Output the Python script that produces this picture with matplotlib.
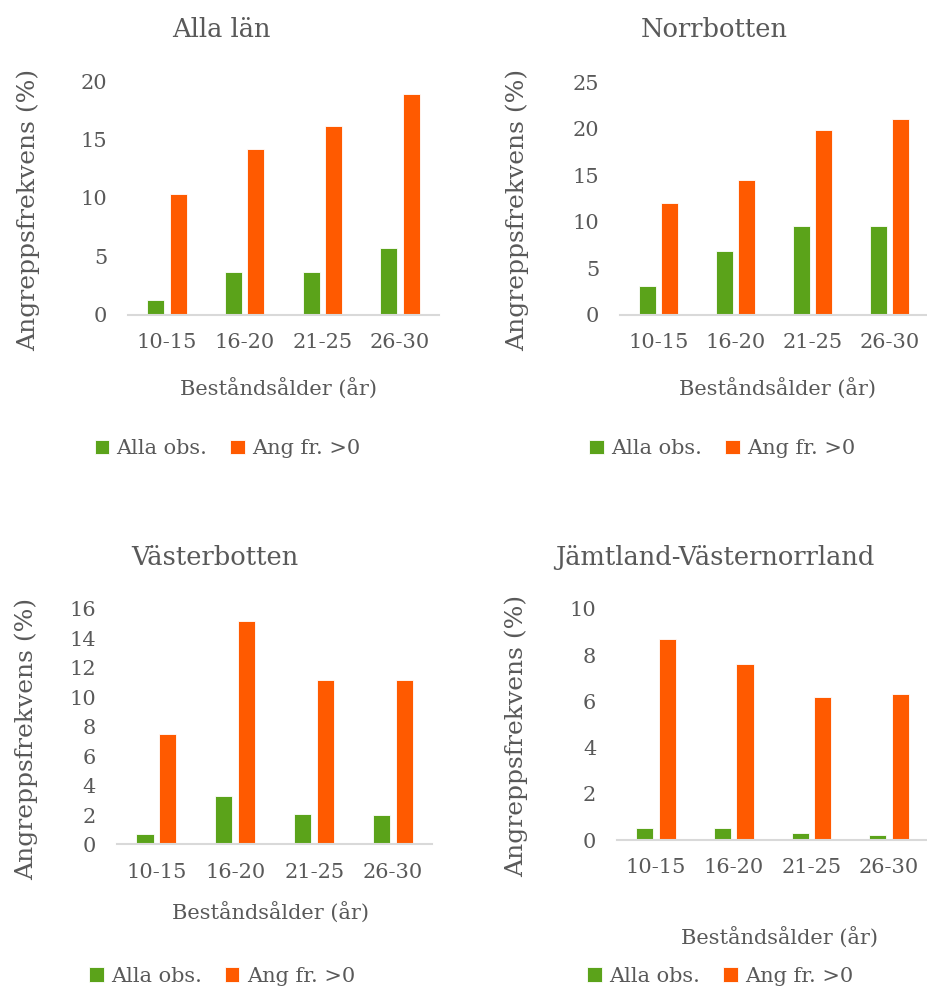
import matplotlib
matplotlib.use("Agg")
import matplotlib.pyplot as plt
import numpy as np

plt.rcParams["font.family"] = ["DejaVu Serif"]

CATEGORIES = ["10-15", "16-20", "21-25", "26-30"]
SERIES_NAMES = ["Alla obs.", "Ang fr. >0"]

TITLES = ["Alla län", "Norrbotten", "Västerbotten", "Jämtland-Västernorrland"]

ALLA_LAN_ALL = [1.3, 3.7, 3.7, 5.7]
ALLA_LAN_POS = [10.3, 14.2, 16.2, 18.9]

NORRBOTTEN_ALL = [3.1, 6.9, 9.5, 9.5]
NORRBOTTEN_POS = [12.0, 14.5, 19.9, 21.0]

VASTERBOTTEN_ALL = [0.7, 3.3, 2.1, 2.0]
VASTERBOTTEN_POS = [7.5, 15.2, 11.2, 11.2]

JAMTLAND_ALL = [0.5, 0.5, 0.3, 0.2]
JAMTLAND_POS = [8.7, 7.6, 6.2, 6.3]

Y_MAX = [20, 25, 16, 10]
Y_STEP = [5, 5, 2, 2]

GREEN = "#5BA31A"
ORANGE = "#FF5A00"
TEXT = "#595959"
AXIS = "#D9D9D9"

# panel geometry in figure fractions: left, bottom, width, height
AX_POS = [
    (0.138, 0.682, 0.335, 0.236),
    (0.668, 0.682, 0.332, 0.235),
    (0.126, 0.147, 0.340, 0.238),
    (0.665, 0.1515, 0.335, 0.2335),
]
TITLE_XY = [(0.239, 0.970), (0.770, 0.970), (0.232, 0.437), (0.770, 0.437)]
XLABEL_XY = [(0.300, 0.608), (0.838, 0.608), (0.292, 0.079), (0.840, 0.053)]
YLABEL_X = [0.031, 0.558, 0.028, 0.556]
LEGEND_XY = [(0.102, 0.537), (0.635, 0.537), (0.096, 0.004), (0.633, 0.004)]

data = [
    (ALLA_LAN_ALL, ALLA_LAN_POS),
    (NORRBOTTEN_ALL, NORRBOTTEN_POS),
    (VASTERBOTTEN_ALL, VASTERBOTTEN_POS),
    (JAMTLAND_ALL, JAMTLAND_POS),
]

fig = plt.figure(figsize=(9.28, 9.9), dpi=100)

x = np.arange(len(CATEGORIES))
width = 0.22
offset = 0.145

for i, (all_obs, pos) in enumerate(data):
    ax = fig.add_axes(AX_POS[i])
    b1 = ax.bar(x - offset, all_obs, width, color=GREEN, edgecolor="white",
                linewidth=0.6, label=SERIES_NAMES[0])
    b2 = ax.bar(x + offset, pos, width, color=ORANGE, edgecolor="white",
                linewidth=0.6, label=SERIES_NAMES[1])

    ax.set_xlim(-0.5, len(CATEGORIES) - 0.5)
    ax.set_ylim(0, Y_MAX[i])
    ax.set_yticks(np.arange(0, Y_MAX[i] + 0.01, Y_STEP[i]))
    ax.set_xticks(x)
    ax.set_xticklabels(CATEGORIES)

    for side in ("top", "right", "left"):
        ax.spines[side].set_visible(False)
    ax.spines["bottom"].set_color(AXIS)
    ax.spines["bottom"].set_linewidth(1.5)
    ax.tick_params(axis="both", length=0, labelsize=15, colors=TEXT)
    ax.tick_params(axis="y", pad=15)
    ax.tick_params(axis="x", pad=13)

    fig.text(*TITLE_XY[i], TITLES[i], ha="center", va="center",
             fontsize=18.5, color=TEXT)
    fig.text(*XLABEL_XY[i], "Beståndsålder (år)", ha="center", va="center",
             fontsize=15, color=TEXT)
    ycenter = AX_POS[i][1] + AX_POS[i][3] * 0.45
    fig.text(YLABEL_X[i], ycenter, "Angreppsfrekvens (%)", ha="center",
             va="center", rotation=90, fontsize=18, color=TEXT)

    leg = fig.legend(handles=[b1, b2], loc="lower left",
                     bbox_to_anchor=LEGEND_XY[i], ncol=2, frameon=False,
                     fontsize=15, handlelength=0.7, handleheight=0.7,
                     handletextpad=0.35, columnspacing=1.1, borderaxespad=0,
                     borderpad=0)
    for t in leg.get_texts():
        t.set_color(TEXT)

fig.savefig("out.png", dpi=100)
